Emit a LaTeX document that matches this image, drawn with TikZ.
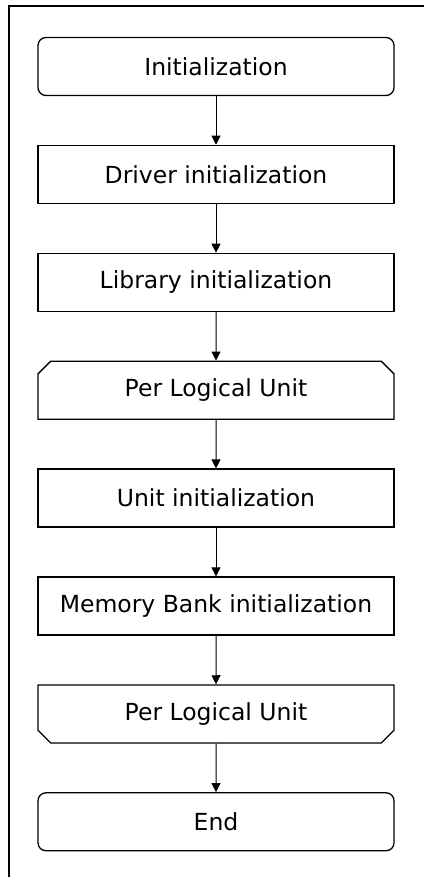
\documentclass[tikz,border=0pt]{standalone}
\usepackage{fontspec}
\setmainfont{DejaVu Sans}
\usepackage{tikz}
\usetikzlibrary{positioning,shapes.misc,arrows.meta}

\begin{document}
\begin{tikzpicture}[x=1pt, y=1pt, node distance=48.6pt,
	every node/.style={draw, line width=1.3pt, minimum width=356pt, minimum height=58pt, inner sep=0pt,
		font=\fontsize{23.5}{28}\selectfont},
	term/.style={rounded corners=8pt},
	proc/.style={rectangle},
	loopstart/.style={chamfered rectangle, chamfered rectangle corners={north west,north east}, chamfered rectangle xsep=9pt},
	loopend/.style={chamfered rectangle, chamfered rectangle corners={south west,south east}, chamfered rectangle xsep=9pt},
	flow/.style={line width=1pt, -{Triangle[length=9pt,width=9pt]}}]

\useasboundingbox (0,0) rectangle (424,-877);
\draw [line width=2pt] (9,-877) -- (9,-6) -- (424,-6);

\node [term] (init) at (216,-66.5) {Initialization};
\node [proc, below=of init] (drv) {Driver initialization};
\node [proc, below=of drv] (lib) {Library initialization};
\node [loopstart, below=of lib] (lpa) {Per Logical Unit};
\node [proc, below=of lpa] (unit) {Unit initialization};
\node [proc, below=of unit] (mem) {Memory Bank initialization};
\node [loopend, below=of mem] (lpb) {Per Logical Unit};
\node [term, below=of lpb] (end) {End};

\foreach \a/\b in {init/drv, drv/lib, lib/lpa, lpa/unit, unit/mem, mem/lpb, lpb/end}
	\draw [flow] (\a) -- (\b);

\end{tikzpicture}
\end{document}
